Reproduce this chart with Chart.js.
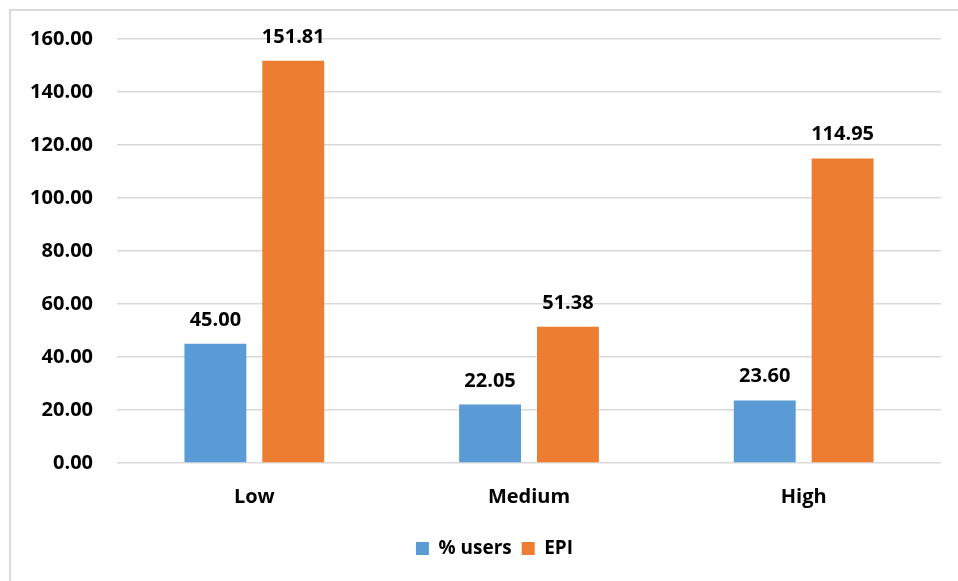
<!DOCTYPE html>
<html lang="en">
<head>
  <meta charset="UTF-8" />
  <title>% users and EPI by level</title>
  <script src="https://cdn.jsdelivr.net/npm/chart.js"></script>
  <style>
    body {
      margin: 0;
      background: #ffffff;
      overflow: hidden;
    }

    .frame {
      position: absolute;
      left: 9px;
      top: 9px;
      width: 1000px;
      height: 700px;
      border-top: 2px solid #d9d9d9;
      border-left: 2px solid #d9d9d9;
    }

    .wrap {
      position: absolute;
      left: 0;
      top: 0;
      width: 958px;
      height: 581px;
    }
  </style>
</head>
<body>
  <div class="frame"></div>
  <div class="wrap"><canvas id="myChart"></canvas></div>

  <script>
    const niveles = ["Low", "Medium", "High"];
    const usuarios = [45.00, 22.05, 23.60];
    const epi = [151.81, 51.38, 114.95];
    const yTicks = [0, 20, 40, 60, 80, 100, 120, 140, 160];

    const FONT = "'Open Sans'";

    // Etiquetas de valor encima de cada barra
    const valueLabels = {
      id: "valueLabels",
      afterDatasetsDraw(chart) {
        const ctx = chart.ctx;
        ctx.save();
        ctx.font = "bold 20px " + FONT;
        ctx.fillStyle = "#000000";
        ctx.textAlign = "center";
        ctx.textBaseline = "alphabetic";
        chart.data.datasets.forEach((ds, i) => {
          chart.getDatasetMeta(i).data.forEach((bar, j) => {
            ctx.fillText(ds.data[j].toFixed(2), bar.x, bar.y - 18);
          });
        });
        ctx.restore();
      }
    };

    // La leyenda va un poco a la derecha del centro
    const legendShift = {
      id: "legendShift",
      afterLayout(chart) {
        if (chart.legend) {
          chart.legend.left += 24;
          chart.legend.right += 24;
        }
      }
    };

    const ctx = document.getElementById("myChart").getContext("2d");

    new Chart(ctx, {
      type: "bar",
      data: {
        labels: niveles,
        datasets: [
          {
            label: "% users",
            data: usuarios,
            backgroundColor: "#5B9BD5",
            borderWidth: 0,
            barPercentage: 0.795,
            categoryPercentage: 0.567
          },
          {
            label: "EPI",
            data: epi,
            backgroundColor: "#ED7D31",
            borderWidth: 0,
            barPercentage: 0.795,
            categoryPercentage: 0.567
          }
        ]
      },
      options: {
        responsive: true,
        maintainAspectRatio: false,
        animation: false,
        layout: {
          padding: { top: 39, right: 17, bottom: 13, left: 0 }
        },
        plugins: {
          legend: {
            position: "bottom",
            labels: {
              boxWidth: 13,
              boxHeight: 13,
              padding: 10,
              color: "#000000",
              font: { family: FONT, size: 19, weight: "bold" }
            }
          },
          tooltip: { enabled: false }
        },
        scales: {
          x: {
            grid: { display: false, drawTicks: false },
            border: { display: false },
            ticks: {
              padding: 22,
              color: "#000000",
              font: { family: FONT, size: 20, weight: "bold" }
            },
            afterFit(axis) { axis.height = 66; }
          },
          y: {
            min: 0,
            max: 160,
            afterBuildTicks(axis) {
              axis.ticks = yTicks.map(v => ({ value: v }));
            },
            grid: { color: "#d9d9d9", lineWidth: 1.5, drawTicks: false },
            border: { display: false },
            ticks: {
              padding: 24,
              color: "#000000",
              font: { family: FONT, size: 20, weight: "bold" },
              callback: v => v.toFixed(2)
            },
            afterFit(axis) { axis.width = 117; }
          }
        }
      },
      plugins: [valueLabels, legendShift]
    });
  </script>
</body>
</html>
